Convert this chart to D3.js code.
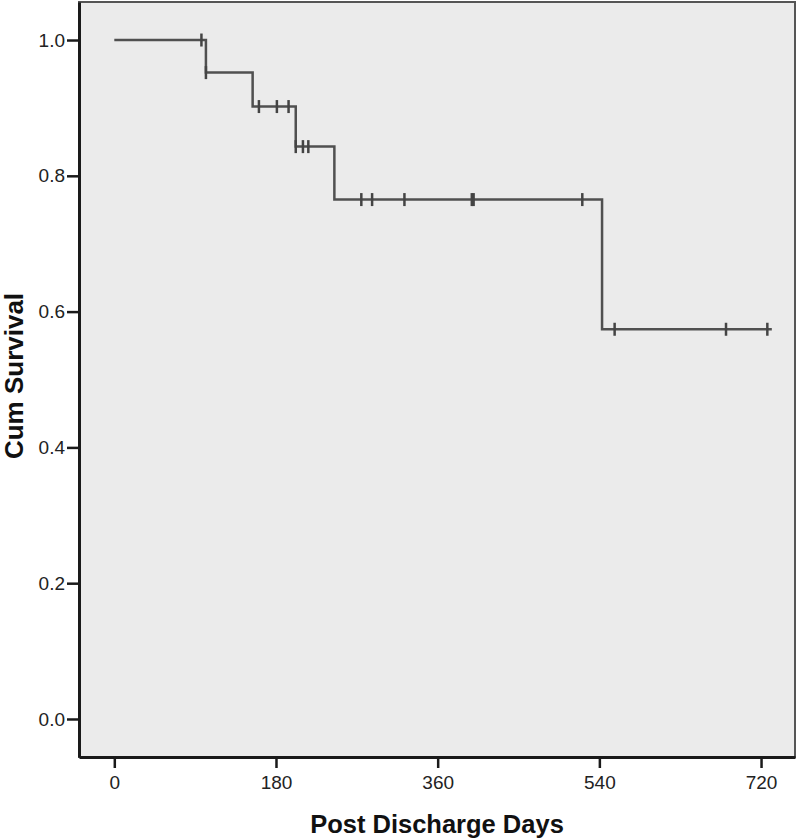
<!DOCTYPE html>
<html>
<head>
<meta charset="utf-8">
<script src="https://cdn.jsdelivr.net/npm/d3@7"></script>
<style>
    html, body { margin: 0; padding: 0; background: #ffffff; }
    svg { display: block; }
    .tick text { font-family: "Liberation Sans", Arial, sans-serif; font-size: 19px; fill: #222; }
    .axis-title { font-family: "Liberation Sans", Arial, sans-serif; font-weight: bold; fill: #111; }
</style>
</head>
<body>
<div id="chart"></div>
<script>
// Kaplan-Meier steps: day of each drop and survival level after it
const STEP_DAYS = [0, 102, 154, 202, 245, 543];
const STEP_SURV = [1.0, 0.952, 0.902, 0.843, 0.765, 0.574];
const END_DAY = 732;

// censored observations (days)
const CENSOR_DAYS = [97, 102, 161, 181, 194, 202, 210, 216, 275, 287, 323, 398, 400, 521, 557, 681, 727];

const X_TICKS = [0, 180, 360, 540, 720];
const Y_TICKS = [0.0, 0.2, 0.4, 0.6, 0.8, 1.0];

// survival level at a given day (right-continuous)
function survAt(day) {
    let s = STEP_SURV[0];
    for (let i = 0; i < STEP_DAYS.length; i++) {
        if (day >= STEP_DAYS[i]) s = STEP_SURV[i];
    }
    return s;
}

const W = 800, H = 839;
const margin = { top: 2, right: 5, bottom: 82, left: 79 };
const width = W - margin.left - margin.right;
const height = H - margin.top - margin.bottom;

const svg = d3.select("#chart").append("svg")
    .attr("width", W).attr("height", H);

const g = svg.append("g")
    .attr("transform", `translate(${margin.left},${margin.top})`);

const x = d3.scaleLinear().domain([-39.3, 757.8]).range([0, width]);
const y = d3.scaleLinear().domain([-0.056, 1.056]).range([height, 0]);

// plot background + frame
g.append("rect")
    .attr("width", width).attr("height", height)
    .attr("fill", "#ebebeb")
    .attr("stroke", "#555")
    .attr("stroke-width", 2);

// step line
const stepData = STEP_DAYS.map((d, i) => ({ day: d, s: STEP_SURV[i] }));
stepData.push({ day: END_DAY, s: STEP_SURV[STEP_SURV.length - 1] });

const line = d3.line()
    .x(d => x(d.day))
    .y(d => y(d.s))
    .curve(d3.curveStepAfter);

g.append("path")
    .datum(stepData)
    .attr("fill", "none")
    .attr("stroke", "#505050")
    .attr("stroke-width", 2.5)
    .attr("d", line);

// censor marks
g.append("g").selectAll("line")
    .data(CENSOR_DAYS)
    .join("line")
    .attr("x1", d => x(d)).attr("x2", d => x(d))
    .attr("y1", d => y(survAt(d)) - 6.5)
    .attr("y2", d => y(survAt(d)) + 6.5)
    .attr("stroke", "#444")
    .attr("stroke-width", 2.5);

// axes
const xAxis = g.append("g")
    .attr("transform", `translate(0,${height})`)
    .call(d3.axisBottom(x).tickValues(X_TICKS).tickSize(11).tickPadding(8).tickSizeOuter(0));

const yAxis = g.append("g")
    .call(d3.axisLeft(y).tickValues(Y_TICKS).tickFormat(d3.format(".1f")).tickSize(12).tickPadding(2).tickSizeOuter(0));

[xAxis, yAxis].forEach(a => {
    a.select(".domain").attr("stroke", "#1a1a1a").attr("stroke-width", 3);
    a.selectAll(".tick line").attr("stroke", "#1a1a1a").attr("stroke-width", 2.5);
});

// axis titles
svg.append("text")
    .attr("class", "axis-title")
    .attr("x", margin.left + width / 2)
    .attr("y", 833)
    .attr("text-anchor", "middle")
    .attr("font-size", "25.5px")
    .text("Post Discharge Days");

svg.append("text")
    .attr("class", "axis-title")
    .attr("transform", "rotate(-90)")
    .attr("x", -376)
    .attr("y", 23)
    .attr("text-anchor", "middle")
    .attr("font-size", "26px")
    .text("Cum Survival");
</script>
</body>
</html>
